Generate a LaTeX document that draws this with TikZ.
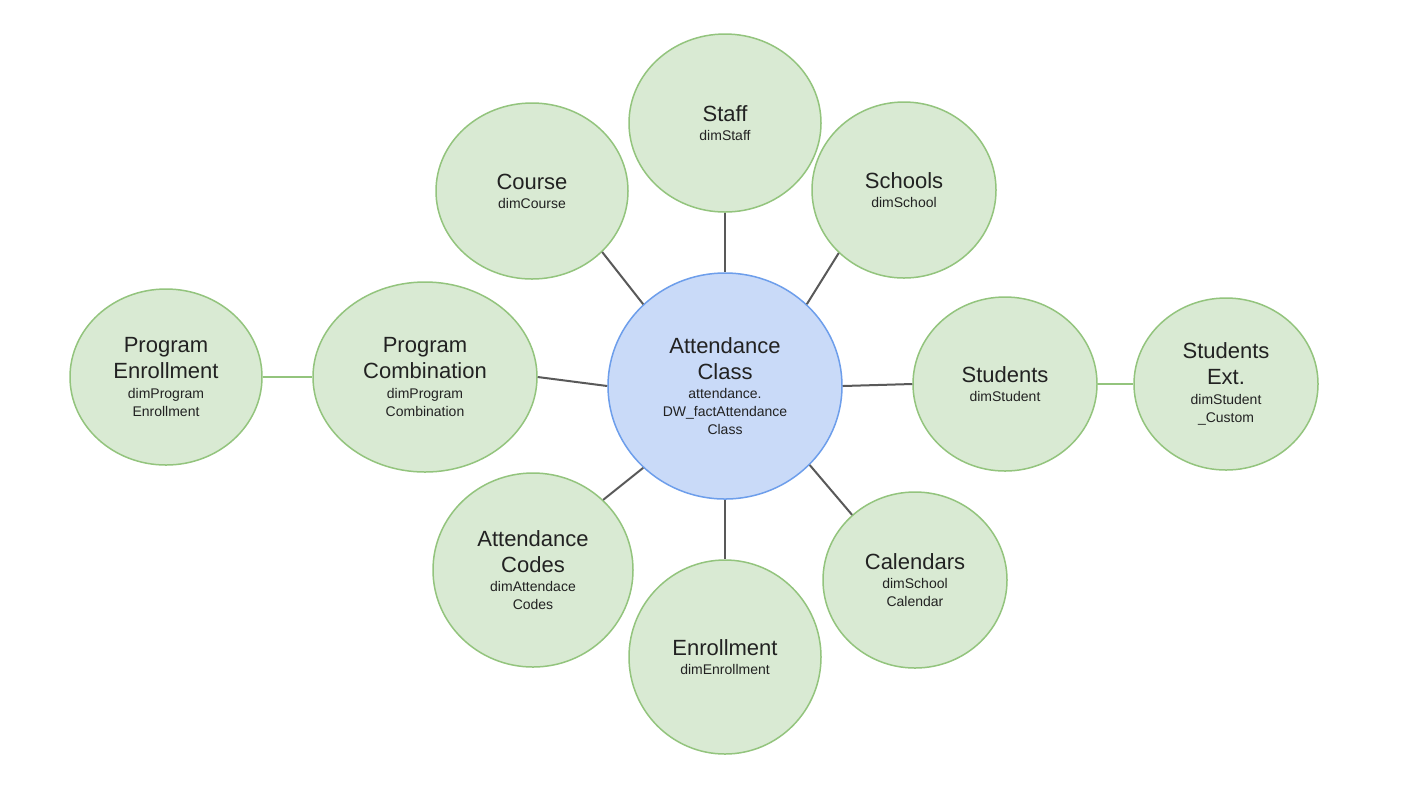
\documentclass[tikz,border=0pt]{standalone}
\usepackage{fontspec}
\setmainfont{Liberation Sans}
\usetikzlibrary{shapes.geometric}
\definecolor{gfill}{HTML}{D9EAD3}
\definecolor{gline}{HTML}{93C47D}
\definecolor{bfill}{HTML}{C9DAF8}
\definecolor{bline}{HTML}{6D9EEB}
\definecolor{conn}{HTML}{595959}
\definecolor{txt}{HTML}{222222}
\newcommand\ntitle[1]{{\fontsize{11}{13}\selectfont #1}}
\newcommand\nsubt[1]{{\fontsize{7}{9}\selectfont #1}}
\tikzset{
  dim/.style={ellipse, draw=gline, fill=gfill, line width=0.75pt, inner sep=0pt,
    align=center, text=txt, font=\fontsize{11}{13}\selectfont},
  fact/.style={dim, draw=bline, fill=bfill},
  link/.style={draw=conn, line width=1pt},
  glink/.style={draw=gline, line width=1pt},
}
\begin{document}
\begin{tikzpicture}[x=0.5pt, y=-0.5pt]
\useasboundingbox (0,0) rectangle (1412,784);
\fill[white] (0,0) rectangle (1412,784);

\node[fact, minimum width=117pt, minimum height=113pt] (att) at (725,386)
  {\ntitle{Attendance}\\\ntitle{Class}\\[-3.4pt]\nsubt{attendance.}\\[-4pt]\nsubt{DW\_factAttendance}\\[-4pt]\nsubt{Class}};
\node[dim, minimum width=96pt, minimum height=89pt] (staff) at (725,123)
  {\ntitle{Staff}\\[-3.4pt]\nsubt{dimStaff}};
\node[dim, minimum width=96pt, minimum height=88pt] (course) at (532,191)
  {\ntitle{Course}\\[-3.4pt]\nsubt{dimCourse}};
\node[dim, minimum width=92pt, minimum height=88pt] (schools) at (904,190)
  {\ntitle{Schools}\\[-3.4pt]\nsubt{dimSchool}};
\node[dim, minimum width=112pt, minimum height=95pt] (pc) at (425,377)
  {\ntitle{Program}\\\ntitle{Combination}\\[-3.4pt]\nsubt{dimProgram}\\[-4pt]\nsubt{Combination}};
\node[dim, minimum width=96pt, minimum height=88pt] (pe) at (166,377)
  {\ntitle{Program}\\\ntitle{Enrollment}\\[-3.4pt]\nsubt{dimProgram}\\[-4pt]\nsubt{Enrollment}};
\node[dim, minimum width=92pt, minimum height=87pt] (st) at (1005,384)
  {\ntitle{Students}\\[-3.4pt]\nsubt{dimStudent}};
\node[dim, minimum width=92pt, minimum height=86pt] (se) at (1226,384)
  {\ntitle{Students}\\\ntitle{Ext.}\\[-3.4pt]\nsubt{dimStudent}\\[-4pt]\nsubt{\_Custom}};
\node[dim, minimum width=100pt, minimum height=97pt] (ac) at (533,570)
  {\ntitle{Attendance}\\\ntitle{Codes}\\[-3.4pt]\nsubt{dimAttendace}\\[-4pt]\nsubt{Codes}};
\node[dim, minimum width=96pt, minimum height=97pt] (enr) at (725,657)
  {\ntitle{Enrollment}\\[-3.4pt]\nsubt{dimEnrollment}};
\node[dim, minimum width=92pt, minimum height=88pt] (cal) at (915,580)
  {\ntitle{Calendars}\\[-3.4pt]\nsubt{dimSchool}\\[-4pt]\nsubt{Calendar}};

\draw[link] (staff.south) -- (att.north);
\draw[link] (course.-41.5) -- (att.135);
\draw[link] (schools.-136.3) -- (att.45);
\draw[link] (pc.east) -- (att.west);
\draw[link] (att.east) -- (st.west);
\draw[link] (ac.45) -- (att.-135);
\draw[link] (att.south) -- (enr.north);
\draw[link] (att.-43.6) -- (cal.134);
\draw[glink] (pe.east) -- (pc.west);
\draw[glink] (st.east) -- (se.west);
\end{tikzpicture}
\end{document}
